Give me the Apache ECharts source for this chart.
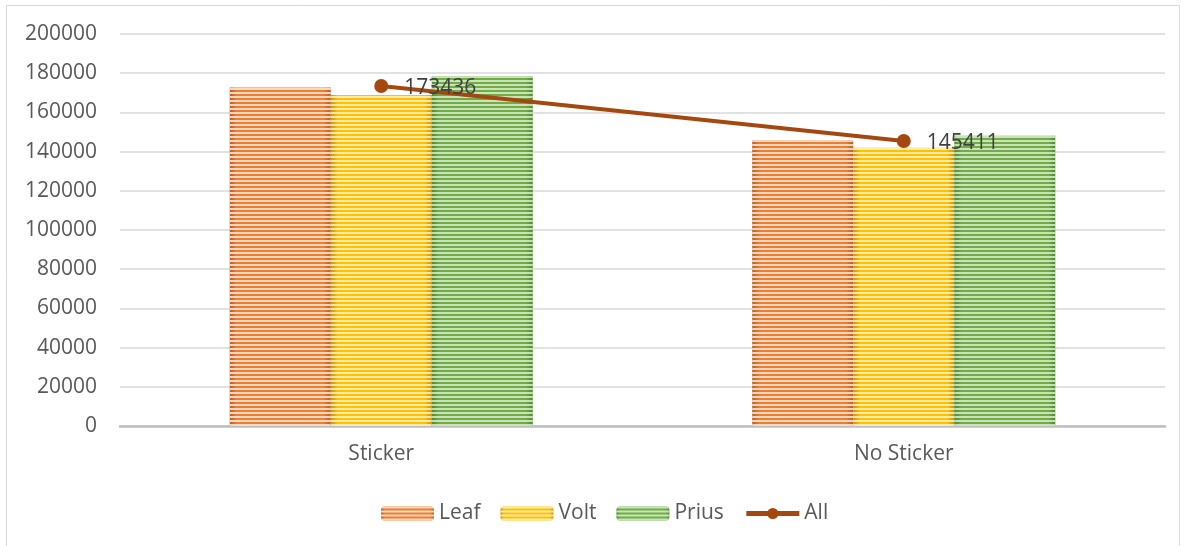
<!DOCTYPE html>
<html>
<head>
<meta charset="utf-8">
<script src="https://cdn.jsdelivr.net/npm/echarts@6/dist/echarts.min.js"></script>
<style>
html,body{margin:0;padding:0;background:#fff;}
#main{width:1186px;height:546px;}
</style>
</head>
<body>
<div id="main"></div>
<script>
const categories = ['Sticker', 'No Sticker'];
const leaf = [172700, 145600];
const volt = [168900, 142000];
const prius = [178500, 148100];
const all = [173436, 145411];
const yTicks = [0, 20000, 40000, 60000, 80000, 100000, 120000, 140000, 160000, 180000, 200000];

const FONT = '"Open Sans", sans-serif';

function barGrad(edge, mid) {
  return {
    type: 'linear', x: 0, y: 0, x2: 1, y2: 0,
    colorStops: [
      {offset: 0, color: edge},
      {offset: 0.07, color: mid},
      {offset: 0.93, color: mid},
      {offset: 1, color: edge}
    ]
  };
}
function decal(c) {
  return {
    symbol: 'rect', symbolSize: 1,
    dashArrayX: [[1, 0]], dashArrayY: [2, 2],
    rotation: 0, color: c
  };
}
function barSeries(name, data, edge, mid, light) {
  return {
    name: name, type: 'bar', data: data,
    barGap: '0%', barCategoryGap: '42%',
    itemStyle: {color: barGrad(edge, mid), decal: decal(light)},
    emphasis: {disabled: true}
  };
}

const chart = echarts.init(document.getElementById('main'));
chart.setOption({
  animation: false,
  backgroundColor: '#fff',
  textStyle: {fontFamily: FONT},
  graphic: [{
    type: 'rect', shape: {x: 6.5, y: 5.5, width: 1173, height: 545},
    style: {fill: 'none', stroke: '#d9d9d9', lineWidth: 1}, silent: true
  }],
  grid: {left: 120, right: 21, top: 34, bottom: 120, containLabel: false},
  legend: {
    bottom: 17, left: 376,
    itemWidth: 53, itemHeight: 14, itemGap: 20,
    textStyle: {fontSize: 21, color: '#595959', fontFamily: FONT},
    data: ['Leaf', 'Volt', 'Prius', {name: 'All', lineStyle: {width: 5}}]
  },
  xAxis: {
    type: 'category', data: categories,
    axisLine: {lineStyle: {color: '#bfbfbf', width: 2.5}},
    axisTick: {show: false},
    axisLabel: {fontSize: 21, color: '#595959', margin: 18, fontFamily: FONT}
  },
  yAxis: {
    type: 'value', min: yTicks[0], max: yTicks[yTicks.length - 1], interval: 20000,
    axisLine: {show: false}, axisTick: {show: false},
    splitLine: {lineStyle: {color: '#d9d9d9', width: 1.5}},
    axisLabel: {fontSize: 21, color: '#595959', margin: 23, fontFamily: FONT,
      formatter: function (v) { return String(v); }}
  },
  series: [
    barSeries('Leaf', leaf, '#B85F22', '#ED7D31', 'rgba(255,240,228,0.8)'),
    barSeries('Volt', volt, '#C99700', '#FFC000', 'rgba(255,246,214,0.8)'),
    barSeries('Prius', prius, '#4F8A2E', '#70AD47', 'rgba(232,245,224,0.75)'),
    {
      name: 'All', type: 'line', data: all,
      lineStyle: {color: '#A5480F', width: 4},
      itemStyle: {color: '#A5480F'},
      symbol: 'circle', symbolSize: 14,
      label: {show: true, position: 'right', distance: 16, offset: [0, 2], fontSize: 21, color: '#404040', fontFamily: FONT},
      emphasis: {disabled: true},
      z: 5
    }
  ]
});
</script>
</body>
</html>
